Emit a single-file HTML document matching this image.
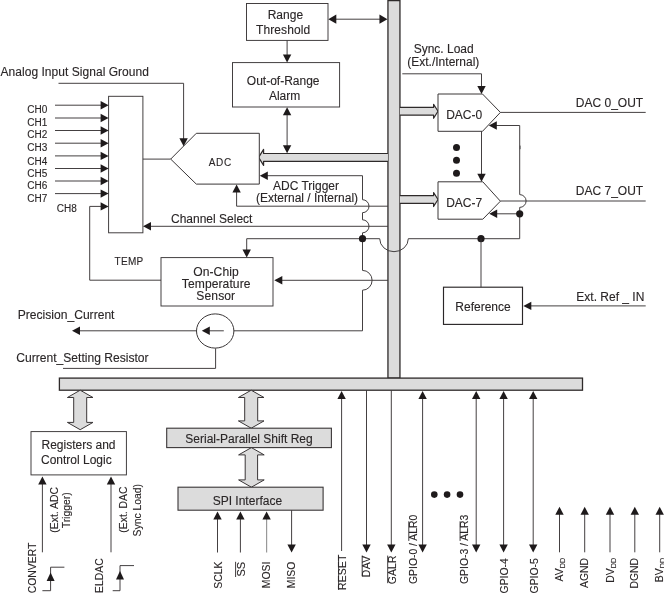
<!DOCTYPE html>
<html lang="en"><head><meta charset="utf-8"><title>Block diagram</title>
<style>
html,body{margin:0;padding:0;background:#fff;}
body{width:664px;height:594px;overflow:hidden;}
svg{display:block;}
text{font-family:"Liberation Sans",sans-serif;}
</style></head><body>
<svg width="664" height="594" viewBox="0 0 664 594">
<rect x="0" y="0" width="664" height="594" fill="#fff"/>
<rect x="387.95" y="0.60" width="12.00" height="377.50" fill="#dcdcdc" stroke="#2e2a2a" stroke-width="1.3"/>
<rect x="59.40" y="378.10" width="523.10" height="12.10" fill="#dcdcdc" stroke="#2e2a2a" stroke-width="1.3"/>
<path d="M399.95,107.40 L433.60,107.40 L433.60,104.30 L438.00,111.30 L433.60,118.30 L433.60,115.20 L399.95,115.20" fill="#dcdcdc" stroke="#2e2a2a" stroke-width="1.2" stroke-linejoin="round"/>
<path d="M399.95,195.60 L433.60,195.60 L433.60,192.50 L438.00,199.50 L433.60,206.50 L433.60,203.40 L399.95,203.40" fill="#dcdcdc" stroke="#2e2a2a" stroke-width="1.2" stroke-linejoin="round"/>
<path d="M387.95,153.50 L263.60,153.50 L263.60,149.40 L258.60,157.40 L263.60,165.40 L263.60,161.30 L387.95,161.30" fill="#dcdcdc" stroke="#2e2a2a" stroke-width="1.2" stroke-linejoin="round"/>
<path d="M80.20,390.20 L93.00,397.50 L86.70,397.50 L86.70,422.40 L93.00,422.40 L80.20,429.70 L67.40,422.40 L73.70,422.40 L73.70,397.50 L67.40,397.50 Z" fill="#dcdcdc" stroke="#3a3637" stroke-width="1.0"/>
<path d="M251.20,390.20 L264.00,397.50 L257.70,397.50 L257.70,420.90 L264.00,420.90 L251.20,428.20 L238.40,420.90 L244.70,420.90 L244.70,397.50 L238.40,397.50 Z" fill="#dcdcdc" stroke="#3a3637" stroke-width="1.0"/>
<path d="M251.40,447.60 L264.20,454.90 L257.60,454.90 L257.60,479.90 L264.20,479.90 L251.40,487.20 L238.60,479.90 L245.20,479.90 L245.20,454.90 L238.60,454.90 Z" fill="#dcdcdc" stroke="#3a3637" stroke-width="1.0"/>
<rect x="246.50" y="3.50" width="81.50" height="36.90" fill="#fff" stroke="#3a3637" stroke-width="0.95"/>
<rect x="232.50" y="62.60" width="107.10" height="44.40" fill="#fff" stroke="#3a3637" stroke-width="0.95"/>
<rect x="108.60" y="96.30" width="34.30" height="136.50" fill="#fff" stroke="#3a3637" stroke-width="0.95"/>
<rect x="161.00" y="257.60" width="112.00" height="48.40" fill="#fff" stroke="#3a3637" stroke-width="0.95"/>
<rect x="443.50" y="287.20" width="79.00" height="37.20" fill="#fff" stroke="#2a2627" stroke-width="1.15"/>
<rect x="31.00" y="431.60" width="95.40" height="43.30" fill="#fff" stroke="#3a3637" stroke-width="0.95"/>
<rect x="166.70" y="428.20" width="164.70" height="19.40" fill="#dcdcdc" stroke="#3a3637" stroke-width="1.1"/>
<rect x="178.00" y="487.20" width="145.10" height="23.00" fill="#dcdcdc" stroke="#3a3637" stroke-width="1.1"/>
<path d="M170.70,159.10 L196.30,133.30 L259.30,133.30 L259.30,184.10 L196.30,184.10 Z" fill="#fff" stroke="#3a3637" stroke-width="1.0"/>
<path d="M438.00,94.00 L482.50,94.00 L500.40,112.40 L482.50,131.30 L438.00,131.30 Z" fill="#fff" stroke="#3a3637" stroke-width="1.0"/>
<path d="M438.00,181.80 L482.80,181.80 L500.40,201.20 L482.80,219.20 L438.00,219.20 Z" fill="#fff" stroke="#3a3637" stroke-width="1.0"/>
<path d="M55.00,105.20 L102.00,105.20" fill="none" stroke="#3a3637" stroke-width="0.95"/>
<polygon points="108.60,105.20 100.60,101.00 100.60,109.40" fill="#1e1a1b"/>
<path d="M55.00,118.00 L102.00,118.00" fill="none" stroke="#3a3637" stroke-width="0.95"/>
<polygon points="108.60,118.00 100.60,113.80 100.60,122.20" fill="#1e1a1b"/>
<path d="M55.00,130.50 L102.00,130.50" fill="none" stroke="#3a3637" stroke-width="0.95"/>
<polygon points="108.60,130.50 100.60,126.30 100.60,134.70" fill="#1e1a1b"/>
<path d="M55.00,143.20 L102.00,143.20" fill="none" stroke="#3a3637" stroke-width="0.95"/>
<polygon points="108.60,143.20 100.60,139.00 100.60,147.40" fill="#1e1a1b"/>
<path d="M55.00,155.90 L102.00,155.90" fill="none" stroke="#3a3637" stroke-width="0.95"/>
<polygon points="108.60,155.90 100.60,151.70 100.60,160.10" fill="#1e1a1b"/>
<path d="M55.00,168.50 L102.00,168.50" fill="none" stroke="#3a3637" stroke-width="0.95"/>
<polygon points="108.60,168.50 100.60,164.30 100.60,172.70" fill="#1e1a1b"/>
<path d="M55.00,181.00 L102.00,181.00" fill="none" stroke="#3a3637" stroke-width="0.95"/>
<polygon points="108.60,181.00 100.60,176.80 100.60,185.20" fill="#1e1a1b"/>
<path d="M55.00,193.60 L102.00,193.60" fill="none" stroke="#3a3637" stroke-width="0.95"/>
<polygon points="108.60,193.60 100.60,189.40 100.60,197.80" fill="#1e1a1b"/>
<path d="M161.00,280.20 L89.70,280.20 L89.70,206.40 L102.00,206.40" fill="none" stroke="#3a3637" stroke-width="0.95"/>
<polygon points="108.60,206.40 100.60,202.20 100.60,210.60" fill="#1e1a1b"/>
<path d="M58.50,83.30 L183.60,83.30 L183.60,140.00" fill="none" stroke="#3a3637" stroke-width="0.95"/>
<polygon points="183.60,146.20 179.40,138.20 187.80,138.20" fill="#1e1a1b"/>
<path d="M142.90,159.10 L170.70,159.10" fill="none" stroke="#3a3637" stroke-width="0.95"/>
<path d="M334.00,19.20 L382.00,19.20" fill="none" stroke="#3a3637" stroke-width="0.95"/>
<polygon points="328.30,19.20 336.30,14.60 336.30,23.80" fill="#1e1a1b"/>
<polygon points="387.45,19.20 379.45,14.60 379.45,23.80" fill="#1e1a1b"/>
<path d="M287.10,40.40 L287.10,56.00" fill="none" stroke="#3a3637" stroke-width="0.95"/>
<polygon points="287.10,62.60 282.90,54.60 291.30,54.60" fill="#1e1a1b"/>
<path d="M287.10,113.00 L287.10,147.00" fill="none" stroke="#3a3637" stroke-width="0.95"/>
<polygon points="287.10,107.20 282.90,115.20 291.30,115.20" fill="#1e1a1b"/>
<polygon points="287.10,153.30 282.90,145.30 291.30,145.30" fill="#1e1a1b"/>
<path d="M266,175.7 L362.5,175.7 L362.50,199.70 A6.5 6.5 0 0 1 362.50,212.70 L362.50,219.80 A6.5 6.5 0 0 1 362.50,232.80 L362.5,270.4 A9.6 9.9 0 0 1 362.5,290.2 L362.5,330.8 L233.4,330.8" fill="none" stroke="#3a3637" stroke-width="0.95"/>
<polygon points="259.80,175.70 267.80,171.50 267.80,179.90" fill="#1e1a1b"/>
<path d="M236.60,191.00 L236.60,206.20 L387.95,206.20" fill="none" stroke="#3a3637" stroke-width="0.95"/>
<polygon points="236.60,184.60 232.40,192.60 240.80,192.60" fill="#1e1a1b"/>
<path d="M150.00,226.30 L387.95,226.30" fill="none" stroke="#3a3637" stroke-width="0.95"/>
<polygon points="143.00,226.30 151.00,222.10 151.00,230.50" fill="#1e1a1b"/>
<path d="M519.7,125.5 L496,125.5" fill="none" stroke="#3a3637" stroke-width="0.95"/>
<polygon points="488.80,125.50 496.80,121.30 496.80,129.70" fill="#1e1a1b"/>
<path d="M519.7,125.5 L519.7,194.6 A6.4 6.4 0 0 1 519.7,207.4 L519.7,238.7 L408.3,238.7 A14.3 13 0 0 1 379.7,238.7 L246.7,238.7 L246.7,251" fill="none" stroke="#3a3637" stroke-width="0.95"/>
<polygon points="246.70,257.60 242.50,249.60 250.90,249.60" fill="#1e1a1b"/>
<path d="M519.70,213.80 L496.00,213.80" fill="none" stroke="#3a3637" stroke-width="0.95"/>
<polygon points="489.20,213.80 497.20,209.60 497.20,218.00" fill="#1e1a1b"/>
<path d="M520.20,145.60 L520.20,149.20" fill="none" stroke="#3a3637" stroke-width="0.7"/>
<circle cx="519.70" cy="213.80" r="3.6" fill="#1e1a1b"/>
<circle cx="481.00" cy="238.70" r="3.6" fill="#1e1a1b"/>
<circle cx="362.50" cy="238.70" r="3.6" fill="#1e1a1b"/>
<path d="M481.00,238.70 L481.00,287.20" fill="none" stroke="#3a3637" stroke-width="0.95"/>
<path d="M387.95,280.30 L281.00,280.30" fill="none" stroke="#3a3637" stroke-width="0.95"/>
<polygon points="274.30,280.30 282.30,276.10 282.30,284.50" fill="#1e1a1b"/>
<path d="M402.30,73.80 L481.50,73.80 L481.50,88.00" fill="none" stroke="#3a3637" stroke-width="0.95"/>
<polygon points="481.50,94.00 477.30,86.00 485.70,86.00" fill="#1e1a1b"/>
<path d="M481.50,131.30 L481.50,176.00" fill="none" stroke="#3a3637" stroke-width="0.95"/>
<polygon points="481.50,181.80 477.30,173.80 485.70,173.80" fill="#1e1a1b"/>
<path d="M500.40,112.40 L645.70,112.40" fill="none" stroke="#3a3637" stroke-width="0.95"/>
<path d="M500.40,201.00 L645.70,201.00" fill="none" stroke="#3a3637" stroke-width="0.95"/>
<path d="M530.00,305.90 L645.70,305.90" fill="none" stroke="#3a3637" stroke-width="0.95"/>
<polygon points="523.30,305.90 531.30,301.70 531.30,310.10" fill="#1e1a1b"/>
<circle cx="456.50" cy="147.50" r="3.5" fill="#1e1a1b"/>
<circle cx="456.50" cy="160.20" r="3.5" fill="#1e1a1b"/>
<circle cx="456.50" cy="173.20" r="3.5" fill="#1e1a1b"/>
<circle cx="434.30" cy="494.60" r="3.3" fill="#1e1a1b"/>
<circle cx="447.10" cy="494.60" r="3.3" fill="#1e1a1b"/>
<circle cx="460.00" cy="494.60" r="3.3" fill="#1e1a1b"/>
<ellipse cx="215.2" cy="331.0" rx="18.7" ry="17.1" fill="#fff" stroke="#3a3637" stroke-width="1"/>
<path d="M223.80,330.80 L208.00,330.80" fill="none" stroke="#3a3637" stroke-width="0.95"/>
<polygon points="201.80,330.80 209.80,326.60 209.80,335.00" fill="#1e1a1b"/>
<path d="M197.00,330.80 L78.00,330.80" fill="none" stroke="#3a3637" stroke-width="0.95"/>
<polygon points="72.00,330.80 80.00,326.60 80.00,335.00" fill="#1e1a1b"/>
<path d="M215.60,348.40 L215.60,368.40 L63.00,368.40" fill="none" stroke="#3a3637" stroke-width="0.95"/>
<path d="M42.40,552.30 L42.40,483.00" fill="none" stroke="#3a3637" stroke-width="0.95"/>
<polygon points="42.40,476.60 38.20,484.60 46.60,484.60" fill="#1e1a1b"/>
<path d="M111.00,552.30 L111.00,483.00" fill="none" stroke="#3a3637" stroke-width="0.95"/>
<polygon points="111.00,476.60 106.80,484.60 115.20,484.60" fill="#1e1a1b"/>
<path d="M42.40,590.70 L50.60,590.70 L50.60,567.20 L64.40,567.20" fill="none" stroke="#3a3637" stroke-width="0.95"/>
<polygon points="50.60,572.40 46.60,581.00 54.60,581.00" fill="#1e1a1b"/>
<path d="M112.70,590.70 L120.00,590.70 L120.00,565.60 L134.00,565.60" fill="none" stroke="#3a3637" stroke-width="0.95"/>
<polygon points="120.00,571.00 116.00,579.60 124.00,579.60" fill="#1e1a1b"/>
<path d="M217.50,552.50 L217.50,518.00" fill="none" stroke="#3a3637" stroke-width="0.95"/>
<polygon points="217.50,511.60 213.30,519.60 221.70,519.60" fill="#1e1a1b"/>
<path d="M240.40,552.50 L240.40,518.00" fill="none" stroke="#3a3637" stroke-width="0.95"/>
<polygon points="240.40,511.60 236.20,519.60 244.60,519.60" fill="#1e1a1b"/>
<path d="M266.60,552.50 L266.60,518.00" fill="none" stroke="#999" stroke-width="1.2"/>
<polygon points="266.60,511.60 262.40,519.60 270.80,519.60" fill="#1e1a1b"/>
<path d="M291.60,510.20 L291.60,546.00" fill="none" stroke="#3a3637" stroke-width="0.95"/>
<polygon points="291.60,552.50 287.40,544.50 295.80,544.50" fill="#1e1a1b"/>
<path d="M341.60,551.00 L341.60,397.00" fill="none" stroke="#3a3637" stroke-width="0.95"/>
<polygon points="341.60,391.00 337.40,399.00 345.80,399.00" fill="#1e1a1b"/>
<path d="M366.50,390.20 L366.50,546.00" fill="none" stroke="#3a3637" stroke-width="0.95"/>
<polygon points="366.50,552.60 362.30,544.60 370.70,544.60" fill="#1e1a1b"/>
<path d="M391.30,390.20 L391.30,546.00" fill="none" stroke="#3a3637" stroke-width="0.95"/>
<polygon points="391.30,552.60 387.10,544.60 395.50,544.60" fill="#1e1a1b"/>
<path d="M422.60,397.00 L422.60,546.00" fill="none" stroke="#3a3637" stroke-width="0.95"/>
<polygon points="422.60,391.00 418.40,399.00 426.80,399.00" fill="#1e1a1b"/>
<polygon points="422.60,552.60 418.40,544.60 426.80,544.60" fill="#1e1a1b"/>
<path d="M476.20,397.00 L476.20,546.00" fill="none" stroke="#3a3637" stroke-width="0.95"/>
<polygon points="476.20,391.00 472.00,399.00 480.40,399.00" fill="#1e1a1b"/>
<polygon points="476.20,552.60 472.00,544.60 480.40,544.60" fill="#1e1a1b"/>
<path d="M503.60,397.00 L503.60,546.00" fill="none" stroke="#3a3637" stroke-width="0.95"/>
<polygon points="503.60,391.00 499.40,399.00 507.80,399.00" fill="#1e1a1b"/>
<polygon points="503.60,552.60 499.40,544.60 507.80,544.60" fill="#1e1a1b"/>
<path d="M533.20,397.00 L533.20,546.00" fill="none" stroke="#3a3637" stroke-width="0.95"/>
<polygon points="533.20,391.00 529.00,399.00 537.40,399.00" fill="#1e1a1b"/>
<polygon points="533.20,552.60 529.00,544.60 537.40,544.60" fill="#1e1a1b"/>
<path d="M559.50,552.30 L559.50,513.00" fill="none" stroke="#3a3637" stroke-width="0.95"/>
<polygon points="559.50,506.80 555.30,514.80 563.70,514.80" fill="#1e1a1b"/>
<path d="M584.70,552.30 L584.70,513.00" fill="none" stroke="#3a3637" stroke-width="0.95"/>
<polygon points="584.70,506.80 580.50,514.80 588.90,514.80" fill="#1e1a1b"/>
<path d="M610.00,552.30 L610.00,513.00" fill="none" stroke="#3a3637" stroke-width="0.95"/>
<polygon points="610.00,506.80 605.80,514.80 614.20,514.80" fill="#1e1a1b"/>
<path d="M634.80,552.30 L634.80,513.00" fill="none" stroke="#3a3637" stroke-width="0.95"/>
<polygon points="634.80,506.80 630.60,514.80 639.00,514.80" fill="#1e1a1b"/>
<path d="M659.70,552.30 L659.70,513.00" fill="none" stroke="#3a3637" stroke-width="0.95"/>
<polygon points="659.70,506.80 655.50,514.80 663.90,514.80" fill="#1e1a1b"/>
<g opacity="0.999" fill="#2a2627" stroke="#2a2627" stroke-width="0.12" font-family="'Liberation Sans', sans-serif">
<text x="285.40" y="18.80" font-size="12" text-anchor="middle">Range</text>
<text x="283.10" y="33.60" font-size="12" text-anchor="middle" letter-spacing="0.100">Threshold</text>
<text x="283.20" y="84.60" font-size="12" text-anchor="middle">Out-of-Range</text>
<text x="284.60" y="100.20" font-size="12" text-anchor="middle">Alarm</text>
<text x="0.50" y="75.80" font-size="12" text-anchor="start" letter-spacing="0.040">Analog Input Signal Ground</text>
<text x="27.30" y="113.00" font-size="10" text-anchor="start">CH0</text>
<text x="27.30" y="126.10" font-size="10" text-anchor="start">CH1</text>
<text x="27.30" y="138.40" font-size="10" text-anchor="start">CH2</text>
<text x="27.30" y="151.20" font-size="10" text-anchor="start">CH3</text>
<text x="27.30" y="165.20" font-size="10" text-anchor="start">CH4</text>
<text x="27.30" y="176.80" font-size="10" text-anchor="start">CH5</text>
<text x="27.30" y="189.10" font-size="10" text-anchor="start">CH6</text>
<text x="27.30" y="201.80" font-size="10" text-anchor="start">CH7</text>
<text x="56.80" y="212.00" font-size="10" text-anchor="start">CH8</text>
<text x="114.60" y="265.00" font-size="10" text-anchor="start" letter-spacing="0.300">TEMP</text>
<text x="208.80" y="165.70" font-size="10" text-anchor="start" letter-spacing="0.600">ADC</text>
<text x="273.00" y="189.60" font-size="12" text-anchor="start">ADC Trigger</text>
<text x="256.00" y="201.90" font-size="12" text-anchor="start">(External / Internal)</text>
<text x="171.00" y="222.70" font-size="12" text-anchor="start">Channel Select</text>
<text x="216.00" y="275.80" font-size="12.1" text-anchor="middle" letter-spacing="0.100">On-Chip</text>
<text x="216.20" y="287.70" font-size="12.1" text-anchor="middle" letter-spacing="0.080">Temperature</text>
<text x="215.80" y="299.70" font-size="12.1" text-anchor="middle" letter-spacing="0.100">Sensor</text>
<text x="443.70" y="53.00" font-size="12" text-anchor="middle">Sync. Load</text>
<text x="443.30" y="66.20" font-size="12" text-anchor="middle">(Ext./Internal)</text>
<text x="446.20" y="119.20" font-size="12" text-anchor="start">DAC-0</text>
<text x="446.20" y="207.40" font-size="12" text-anchor="start">DAC-7</text>
<text x="575.80" y="107.20" font-size="12" text-anchor="start">DAC 0_OUT</text>
<text x="575.80" y="195.20" font-size="12" text-anchor="start">DAC 7_OUT</text>
<text x="455.30" y="310.50" font-size="12" text-anchor="start">Reference</text>
<text x="576.30" y="301.00" font-size="12" text-anchor="start">Ext. Ref _ IN</text>
<text x="17.70" y="318.80" font-size="12.1" text-anchor="start">Precision_Current</text>
<text x="16.20" y="362.00" font-size="12.1" text-anchor="start">Current_Setting Resistor</text>
<text x="41.50" y="449.30" font-size="12" text-anchor="start">Registers and</text>
<text x="41.00" y="463.90" font-size="12" text-anchor="start">Control Logic</text>
<text x="185.30" y="443.20" font-size="12" text-anchor="start">Serial-Parallel Shift Reg</text>
<text x="212.70" y="505.00" font-size="12" text-anchor="start">SPI Interface</text>
<text x="57.80" y="532.70" font-size="10.4" text-anchor="start" transform="rotate(-90 57.80 532.70)">(Ext. ADC</text>
<text x="70.20" y="528.30" font-size="10.4" text-anchor="start" transform="rotate(-90 70.20 528.30)">Trigger)</text>
<text x="127.00" y="532.70" font-size="10.4" text-anchor="start" transform="rotate(-90 127.00 532.70)">(Ext. DAC</text>
<text x="140.50" y="536.50" font-size="10.4" text-anchor="start" transform="rotate(-90 140.50 536.50)">Sync Load)</text>
<text x="35.80" y="593.30" font-size="10.4" text-anchor="start" transform="rotate(-90 35.80 593.30)">CONVERT</text>
<text x="103.10" y="593.00" font-size="10.4" text-anchor="start" transform="rotate(-90 103.10 593.00)">ELDAC</text>
<text x="222.30" y="561.60" font-size="10.4" text-anchor="end" transform="rotate(-90 222.30 561.60)">SCLK</text>
<text x="245.20" y="561.80" font-size="11" text-anchor="end" transform="rotate(-90 245.20 561.80)">SS</text>
<text x="269.70" y="561.60" font-size="10.4" text-anchor="end" transform="rotate(-90 269.70 561.60)">MOSI</text>
<text x="294.60" y="561.60" font-size="10.4" text-anchor="end" transform="rotate(-90 294.60 561.60)">MISO</text>
<text x="346.40" y="589.90" font-size="10.4" text-anchor="start" transform="rotate(-90 346.40 589.90)" letter-spacing="0.150">RESET</text>
<text x="370.40" y="555.40" font-size="10.4" text-anchor="end" transform="rotate(-90 370.40 555.40)" letter-spacing="0.400">DAV</text>
<text x="395.60" y="555.40" font-size="10.4" text-anchor="end" transform="rotate(-90 395.60 555.40)" letter-spacing="0.150">GALR</text>
<text x="416.80" y="584.00" font-size="10.4" text-anchor="start" transform="rotate(-90 416.80 584.00)">GPIO-0 / ALR0</text>
<text x="468.10" y="584.00" font-size="10.4" text-anchor="start" transform="rotate(-90 468.10 584.00)">GPIO-3 / ALR3</text>
<text x="508.00" y="593.40" font-size="10.4" text-anchor="start" transform="rotate(-90 508.00 593.40)">GPIO-4</text>
<text x="537.60" y="593.40" font-size="10.4" text-anchor="start" transform="rotate(-90 537.60 593.40)">GPIO-5</text>
<text x="563.20" y="557.90" font-size="10.4" text-anchor="end" transform="rotate(-90 563.20 557.90)">AV<tspan font-size="7.2" dy="2.0" letter-spacing="0">DD</tspan></text>
<text x="588.40" y="557.90" font-size="10.4" text-anchor="end" transform="rotate(-90 588.40 557.90)">AGND</text>
<text x="613.70" y="557.90" font-size="10.4" text-anchor="end" transform="rotate(-90 613.70 557.90)">DV<tspan font-size="7.2" dy="2.0" letter-spacing="0">DD</tspan></text>
<text x="638.50" y="557.90" font-size="10.4" text-anchor="end" transform="rotate(-90 638.50 557.90)">DGND</text>
<text x="663.40" y="557.90" font-size="10.4" text-anchor="end" transform="rotate(-90 663.40 557.90)">BV<tspan font-size="7.2" dy="2.0" letter-spacing="0">DD</tspan></text>
</g>
<path d="M235.60,561.80 L235.60,577.00" fill="none" stroke="#2a2627" stroke-width="0.9"/>
<path d="M338.60,555.80 L338.60,589.90" fill="none" stroke="#2a2627" stroke-width="0.9"/>
<path d="M362.20,555.60 L362.20,576.20" fill="none" stroke="#2a2627" stroke-width="0.9"/>
<path d="M387.70,555.60 L387.70,583.20" fill="none" stroke="#2a2627" stroke-width="0.9"/>
<path d="M408.80,521.30 L408.80,540.90" fill="none" stroke="#2a2627" stroke-width="0.9"/>
<path d="M460.10,521.30 L460.10,540.90" fill="none" stroke="#2a2627" stroke-width="0.9"/>
</svg>
</body></html>
